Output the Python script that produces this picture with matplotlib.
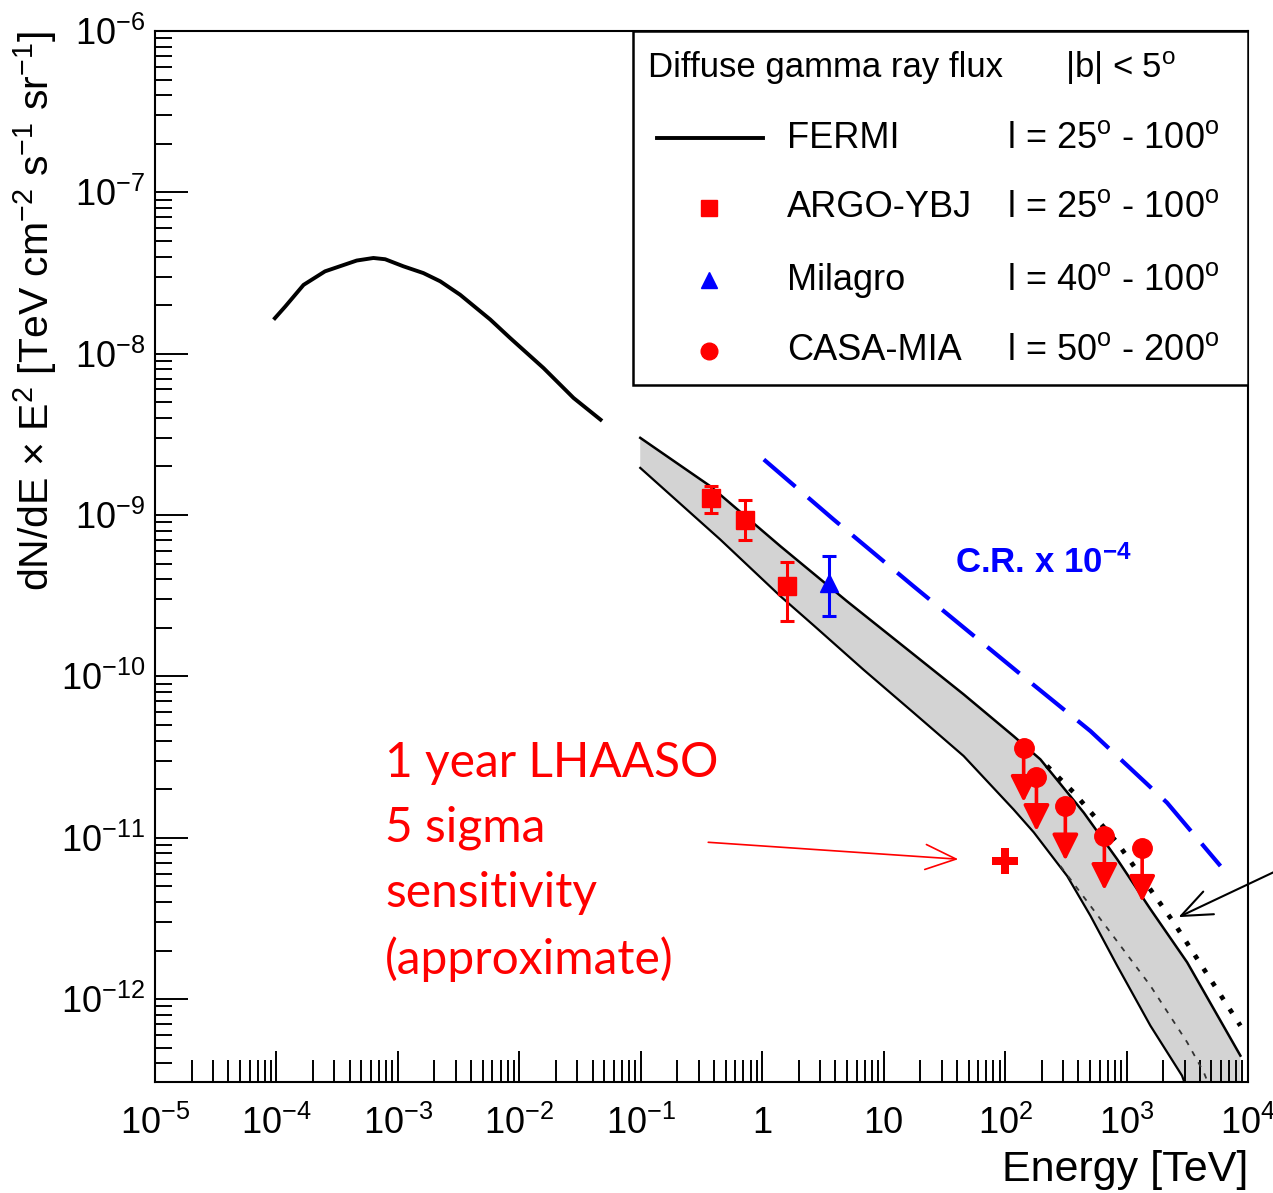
import matplotlib

matplotlib.use("Agg")
import matplotlib.pyplot as plt
import numpy as np
from matplotlib.patches import Rectangle
from matplotlib.ticker import FixedLocator, FixedFormatter, LogLocator, NullFormatter

RED = "#ff0000"
BLUE = "#0000ff"
INK = "#000000"
BAND = "#d3d3d3"

plt.rcParams.update({
    "font.family": ["Liberation Sans", "DejaVu Sans"],
    "mathtext.fontset": "custom",
    "mathtext.rm": "Liberation Sans",
    "mathtext.it": "Liberation Sans:italic",
    "mathtext.bf": "Liberation Sans:bold",
    "axes.linewidth": 1.5,
})

# ---- data (E in TeV, E^2 dN/dE in TeV cm^-2 s^-1 sr^-1) ----
fermi_e = [9.7e-5, 1.18e-4, 1.67e-4, 2.51e-4, 4.58e-4, 6.28e-4, 7.85e-4, 1.11e-3,
           1.62e-3, 2.23e-3, 3.25e-3, 5.75e-3, 8.4e-3, 1.58e-2, 2.79e-2, 4.66e-2]
fermi_f = [1.66e-8, 1.96e-8, 2.67e-8, 3.24e-8, 3.78e-8, 3.92e-8, 3.85e-8, 3.48e-8,
           3.16e-8, 2.81e-8, 2.32e-8, 1.63e-8, 1.25e-8, 8.15e-9, 5.32e-9, 3.90e-9]

# model band, upper and lower edges
band_hi_e = [0.0989, 0.373, 1.41, 4.99, 17.6, 45.5, 117, 195, 444, 836, 1570, 3150, 8650]
band_hi_f = [3.01e-9, 1.51e-9, 6.41e-10, 2.92e-10, 1.37e-10, 7.74e-11, 4.27e-11,
             3.06e-11, 1.43e-11, 7.36e-12, 3.61e-12, 1.69e-12, 4.46e-13]
band_lo_e = [0.0989, 0.451, 1.41, 2.65, 6.82, 17.6, 45.5, 117, 172, 324, 504, 836,
             1570, 2860, 3360]
band_lo_f = [1.96e-9, 7.05e-10, 3.14e-10, 2.07e-10, 1.10e-10, 5.96e-11, 3.21e-11,
             1.50e-11, 1.08e-11, 5.79e-12, 3.28e-12, 1.61e-12, 6.84e-13, 3.35e-13, 2.4e-13]
BAND_FLOOR = 2e-13

inner_e = [285, 736, 1570, 3150, 4320, 4900]
inner_f = [6.68e-12, 2.59e-12, 1.21e-12, 5.40e-13, 3.52e-13, 2.77e-13]

dotted_e = [221, 366, 836, 2440, 8650]
dotted_f = [2.79e-11, 1.91e-11, 9.33e-12, 2.99e-12, 6.84e-13]

cr_e = [1.03, 3.87, 17.6, 151, 504, 2150, 5930]
cr_f = [2.21e-9, 9.38e-10, 3.62e-10, 9.57e-11, 4.58e-11, 1.65e-11, 6.68e-12]

argo_e = [0.378, 0.724, 1.60]
argo_f = [1.28e-9, 9.37e-10, 3.62e-10]
argo_hi = [1.51e-9, 1.24e-9, 5.10e-10]
argo_lo = [1.03e-9, 6.98e-10, 2.22e-10]

milagro_e = [3.52]
milagro_f = [3.80e-10]
milagro_hi = [5.61e-10]
milagro_lo = [2.36e-10]

casa_e = [142, 181, 313, 656, 1343]
casa_f = [3.62e-11, 2.39e-11, 1.57e-11, 1.03e-11, 8.69e-12]
UL_FACTOR = 0.46  # arrow length of the upper limits

lhaaso_e = [100]
lhaaso_f = [7.2e-12]

xticks = [1e-5, 1e-4, 1e-3, 1e-2, 1e-1, 1, 10, 1e2, 1e3, 1e4]
xlabels = ["$10^{-5}$", "$10^{-4}$", "$10^{-3}$", "$10^{-2}$", "$10^{-1}$", "1", "10",
           "$10^{2}$", "$10^{3}$", "$10^{4}$"]
yticks = [1e-12, 1e-11, 1e-10, 1e-9, 1e-8, 1e-7, 1e-6]
ylabels = ["$10^{-12}$", "$10^{-11}$", "$10^{-10}$", "$10^{-9}$", "$10^{-8}$", "$10^{-7}$", "$10^{-6}$"]

leg_names = ["FERMI", "ARGO-YBJ", "Milagro", "CASA-MIA"]
leg_ranges = [r"l = 25$^{\rm o}$ - 100$^{\rm o}$", r"l = 25$^{\rm o}$ - 100$^{\rm o}$",
              r"l = 40$^{\rm o}$ - 100$^{\rm o}$", r"l = 50$^{\rm o}$ - 200$^{\rm o}$"]

fig = plt.figure(figsize=(12.73, 11.93), dpi=100)
ax = fig.add_axes([0.1218, 0.0930, 0.8586, 0.881])
ax.set_xscale("log")
ax.set_yscale("log")
ax.set_xlim(1e-5, 1e4)
ax.set_ylim(3.06e-13, 1e-6)

# band
poly_e = band_hi_e + [band_hi_e[-1]] + band_lo_e[::-1]
poly_f = band_hi_f + [BAND_FLOOR] + band_lo_f[::-1]
ax.fill(poly_e, poly_f, color=BAND, lw=0, zorder=1)
ax.plot(band_hi_e, band_hi_f, color=INK, lw=1.8, zorder=2)
ax.plot(band_lo_e, band_lo_f, color=INK, lw=1.6, zorder=2)
ax.plot(inner_e, inner_f, color="#333333", lw=1.3, dashes=(3, 4), zorder=2)
ax.plot(dotted_e, dotted_f, color=INK, lw=3.4, dashes=(1, 2.4), zorder=2)

# FERMI
ax.plot(fermi_e, fermi_f, color=INK, lw=2.8, zorder=3)

# cosmic rays x 1e-4
ax.plot(cr_e, cr_f, color=BLUE, lw=3.0, dashes=(10, 4), zorder=3)
ax.text(38.9, 5.08e-10, r"C.R. x 10$^{\mathbf{-4}}$", color=BLUE, fontsize=25,
        fontweight="bold", ha="left", va="center")

# data points
ax.errorbar(argo_e, argo_f,
            yerr=[np.subtract(argo_f, argo_lo), np.subtract(argo_hi, argo_f)],
            fmt="s", color=RED, ms=13, elinewidth=2.2, capsize=5, capthick=2.2, zorder=5)
ax.errorbar(milagro_e, milagro_f,
            yerr=[np.subtract(milagro_f, milagro_lo), np.subtract(milagro_hi, milagro_f)],
            fmt="^", color=BLUE, ms=13, elinewidth=2.2, capsize=5, capthick=2.2, zorder=5)
ax.plot(casa_e, casa_f, "o", color=RED, ms=14, zorder=5)
for e, f in zip(casa_e, casa_f):
    ax.annotate("", xy=(e, f * UL_FACTOR), xytext=(e, f),
                arrowprops=dict(arrowstyle="-|>,head_length=0.8,head_width=0.4", color=RED,
                                lw=2.6, shrinkA=0, shrinkB=0, mutation_scale=20), zorder=5)
ax.plot(lhaaso_e, lhaaso_f, "P", color=RED, ms=19, mew=0, zorder=5)

# annotations
ax.text(0.2104, 0.2098, "1 year LHAASO\n5 sigma\nsensitivity\n(approximate)", color=RED,
        fontsize=34.5, family=["Lato", "DejaVu Sans"], ha="left", va="center",
        linespacing=1.58, transform=ax.transAxes)
ax.annotate("", xy=(41.1, 7.36e-12), xytext=(0.359, 9.37e-12),
            arrowprops=dict(arrowstyle="->,head_length=1.1,head_width=0.45", color=RED,
                            lw=1.2, shrinkA=0, shrinkB=0, mutation_scale=20))
ax.annotate("", xy=(2673, 3.22e-12), xytext=(1.62e4, 6.11e-12), annotation_clip=False,
            arrowprops=dict(arrowstyle="->,head_length=1.1,head_width=0.45", color=INK,
                            lw=1.5, shrinkA=0, shrinkB=0, mutation_scale=20))

# axes, ticks
ax.xaxis.set_major_locator(FixedLocator(xticks))
ax.xaxis.set_major_formatter(FixedFormatter(xlabels))
ax.xaxis.set_minor_locator(LogLocator(base=10, subs=np.arange(2, 10), numticks=100))
ax.xaxis.set_minor_formatter(NullFormatter())
ax.yaxis.set_major_locator(FixedLocator(yticks))
ax.yaxis.set_major_formatter(FixedFormatter(ylabels))
ax.yaxis.set_minor_locator(LogLocator(base=10, subs=np.arange(2, 10), numticks=100))
ax.yaxis.set_minor_formatter(NullFormatter())
ax.tick_params(axis="x", which="major", direction="in", length=22, width=1.4,
               top=False, labelsize=26, pad=17)
ax.tick_params(axis="x", which="minor", direction="in", length=16, width=1.4, top=False)
ax.tick_params(axis="y", which="major", direction="in", length=24, width=1.4,
               right=False, labelsize=26, pad=7)
ax.tick_params(axis="y", which="minor", direction="in", length=12, width=1.4, right=False)

ax.set_xlabel("Energy [TeV]", fontsize=31, loc="right", labelpad=6)
ax.set_ylabel(r"dN/dE × E$^{2}$ [TeV cm$^{-2}$ s$^{-1}$ sr$^{-1}$]", fontsize=29.5,
              loc="top", labelpad=1)

# legend box (ROOT style)
ax.add_patch(Rectangle((0.437, 0.663), 0.563, 0.337, transform=ax.transAxes,
                       facecolor="white", edgecolor=INK, lw=1.8, zorder=8))
ax.text(0.451, 0.965, "Diffuse gamma ray flux", fontsize=25, ha="left", va="center",
        transform=ax.transAxes, zorder=9)
ax.text(0.8326, 0.965, r"|b| < 5$^{\rm o}$", fontsize=25, ha="left", va="center",
        transform=ax.transAxes, zorder=9)
rows_y = [0.898, 0.832, 0.763, 0.696]
ax.plot([0.459, 0.556], [rows_y[0]] * 2, color=INK, lw=2.8, transform=ax.transAxes, zorder=9)
ax.plot([0.507], [rows_y[1]], "s", color=RED, ms=12, transform=ax.transAxes, zorder=9)
ax.plot([0.507], [rows_y[2]], "^", color=BLUE, ms=12, transform=ax.transAxes, zorder=9)
ax.plot([0.507], [rows_y[3]], "o", color=RED, ms=12, transform=ax.transAxes, zorder=9)
for y, name, rng in zip(rows_y, leg_names, leg_ranges):
    ax.text(0.578, y, name, fontsize=26, ha="left", va="center", transform=ax.transAxes, zorder=9)
    ax.text(0.9735, y, rng, fontsize=26, ha="right", va="center", transform=ax.transAxes, zorder=9)

fig.savefig("out.png", dpi=100, facecolor="white")
